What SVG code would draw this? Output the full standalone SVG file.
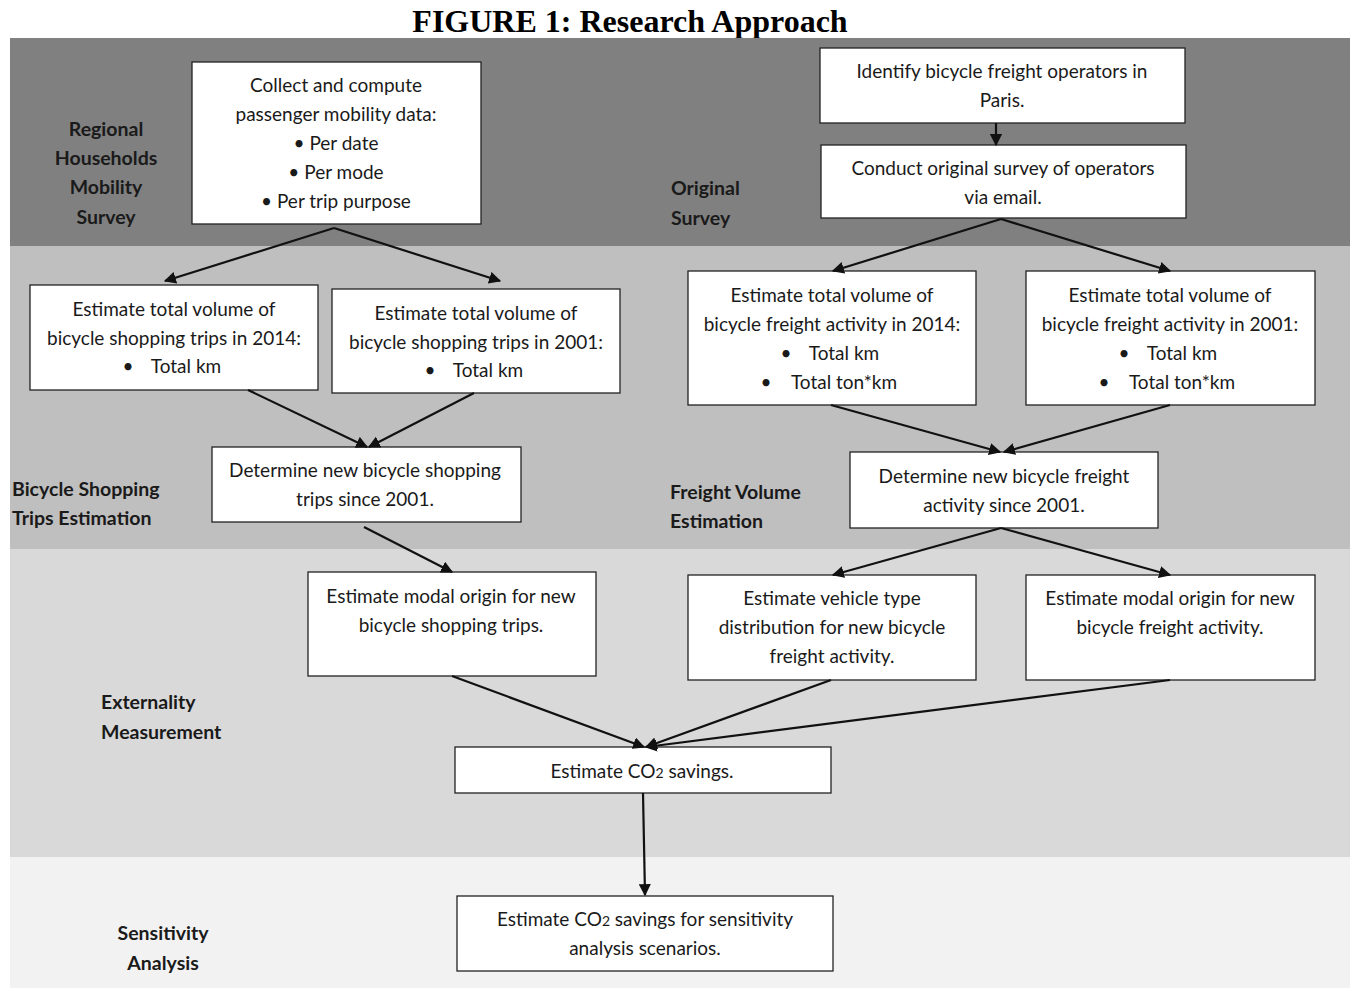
<svg xmlns="http://www.w3.org/2000/svg" width="1353" height="989" viewBox="0 0 1353 989">
<style>
.t{font-family:Lato,"Open Sans",sans-serif;font-size:19px;fill:#1a1a1a;text-anchor:middle}
.l{font-family:Lato,"Open Sans",sans-serif;font-size:19.5px;font-weight:bold;fill:#1a1a1a}
.box{fill:#fff;stroke:#222;stroke-width:1.3}
.c line{stroke:#111;stroke-width:2.2;marker-end:url(#ah)}
.sub{font-size:14px}
</style>
<defs>
<marker id="ah" viewBox="0 0 10 10" refX="9" refY="5" markerWidth="5.5" markerHeight="5.5" orient="auto" markerUnits="strokeWidth">
<path d="M0,0 L10,5 L0,10 z" fill="#111"/>
</marker>
</defs>
<rect width="1353" height="989" fill="#fff"/>
<text x="630" y="32" font-family="Liberation Serif,serif" font-weight="bold" font-size="32" text-anchor="middle" fill="#000">FIGURE 1: Research Approach</text>
<g id="bands">
<rect x="10" y="38" width="1340" height="208" fill="#808080"/>
<rect x="10" y="246" width="1340" height="303" fill="#bfbfbf"/>
<rect x="10" y="549" width="1340" height="308" fill="#d9d9d9"/>
<rect x="10" y="857" width="1340" height="131" fill="#f2f2f2"/>
</g>
<g id="labels">
<text class="l" text-anchor="middle"><tspan x="106" y="136">Regional</tspan><tspan x="106" y="165">Households</tspan><tspan x="106" y="194">Mobility</tspan><tspan x="106" y="224">Survey</tspan></text>
<text class="l"><tspan x="671" y="195">Original</tspan><tspan x="671" y="225">Survey</tspan></text>
<text class="l"><tspan x="12" y="496">Bicycle Shopping</tspan><tspan x="12" y="525">Trips Estimation</tspan></text>
<text class="l"><tspan x="670" y="499">Freight Volume</tspan><tspan x="670" y="528">Estimation</tspan></text>
<text class="l"><tspan x="101" y="709">Externality</tspan><tspan x="101" y="739">Measurement</tspan></text>
<text class="l" text-anchor="middle"><tspan x="163" y="940">Sensitivity</tspan><tspan x="163" y="970">Analysis</tspan></text>
</g>
<g id="n1"><rect class="box" x="192" y="62" width="289" height="162"/>
<text class="t"><tspan x="336" y="92">Collect and compute</tspan><tspan x="336" y="121">passenger mobility data:</tspan><tspan x="336" y="150">• Per date</tspan><tspan x="336" y="179">• Per mode</tspan><tspan x="336" y="208">• Per trip purpose</tspan></text></g>
<g id="n2"><rect class="box" x="820" y="48" width="365" height="75"/>
<text class="t"><tspan x="1002" y="78">Identify bicycle freight operators in</tspan><tspan x="1002" y="107">Paris.</tspan></text></g>
<g id="n3"><rect class="box" x="821" y="145" width="365" height="73"/>
<text class="t"><tspan x="1003" y="175">Conduct original survey of operators</tspan><tspan x="1003" y="204">via email.</tspan></text></g>
<g id="n4"><rect class="box" x="30" y="285" width="288" height="105"/>
<text class="t"><tspan x="174" y="316">Estimate total volume of</tspan><tspan x="174" y="345">bicycle shopping trips in 2014:</tspan><tspan x="128" y="373">•</tspan><tspan x="186" y="373">Total km</tspan></text></g>
<g id="n5"><rect class="box" x="332" y="289" width="288" height="104"/>
<text class="t"><tspan x="476" y="320">Estimate total volume of</tspan><tspan x="476" y="349">bicycle shopping trips in 2001:</tspan><tspan x="430" y="377">•</tspan><tspan x="488" y="377">Total km</tspan></text></g>
<g id="n6"><rect class="box" x="688" y="271" width="288" height="134"/>
<text class="t"><tspan x="832" y="302">Estimate total volume of</tspan><tspan x="832" y="331">bicycle freight activity in 2014:</tspan><tspan x="786" y="360">•</tspan><tspan x="844" y="360">Total km</tspan><tspan x="766" y="389">•</tspan><tspan x="844" y="389">Total ton*km</tspan></text></g>
<g id="n7"><rect class="box" x="1026" y="271" width="289" height="134"/>
<text class="t"><tspan x="1170" y="302">Estimate total volume of</tspan><tspan x="1170" y="331">bicycle freight activity in 2001:</tspan><tspan x="1124" y="360">•</tspan><tspan x="1182" y="360">Total km</tspan><tspan x="1104" y="389">•</tspan><tspan x="1182" y="389">Total ton*km</tspan></text></g>
<g id="n8"><rect class="box" x="212" y="447" width="309" height="75"/>
<text class="t"><tspan x="365" y="477">Determine new bicycle shopping</tspan><tspan x="365" y="506">trips since 2001.</tspan></text></g>
<g id="n9"><rect class="box" x="850" y="452" width="308" height="76"/>
<text class="t"><tspan x="1004" y="483">Determine new bicycle freight</tspan><tspan x="1004" y="512">activity since 2001.</tspan></text></g>
<g id="n10"><rect class="box" x="308" y="572" width="288" height="104"/>
<text class="t"><tspan x="451" y="603">Estimate modal origin for new</tspan><tspan x="451" y="632">bicycle shopping trips.</tspan></text></g>
<g id="n11"><rect class="box" x="688" y="575" width="288" height="105"/>
<text class="t"><tspan x="832" y="605">Estimate vehicle type</tspan><tspan x="832" y="634">distribution for new bicycle</tspan><tspan x="832" y="663">freight activity.</tspan></text></g>
<g id="n12"><rect class="box" x="1026" y="575" width="289" height="105"/>
<text class="t"><tspan x="1170" y="605">Estimate modal origin for new</tspan><tspan x="1170" y="634">bicycle freight activity.</tspan></text></g>
<g id="n13"><rect class="box" x="455" y="747" width="376" height="46"/>
<text class="t"><tspan x="642" y="778">Estimate CO<tspan class="sub">2</tspan> savings.</tspan></text></g>
<g id="n14"><rect class="box" x="457" y="896" width="376" height="75"/>
<text class="t"><tspan x="645" y="926">Estimate CO<tspan class="sub">2</tspan> savings for sensitivity</tspan><tspan x="645" y="955">analysis scenarios.</tspan></text></g>
<g id="connectors" class="c">
<line x1="334" y1="228" x2="165" y2="281"/>
<line x1="334" y1="228" x2="500" y2="281"/>
<line x1="996" y1="123" x2="996" y2="145"/>
<line x1="1001" y1="219" x2="833" y2="271"/>
<line x1="1001" y1="219" x2="1170" y2="271"/>
<line x1="248" y1="390" x2="367" y2="447"/>
<line x1="474" y1="393" x2="369" y2="447"/>
<line x1="831" y1="405" x2="1000" y2="452"/>
<line x1="1170" y1="405" x2="1004" y2="452"/>
<line x1="364" y1="527" x2="452" y2="572"/>
<line x1="1001" y1="528" x2="833" y2="575"/>
<line x1="1001" y1="528" x2="1170" y2="575"/>
<line x1="452" y1="676" x2="644" y2="747"/>
<line x1="831" y1="680" x2="646" y2="747"/>
<line x1="1170" y1="680" x2="646" y2="747"/>
<line x1="643" y1="793" x2="645" y2="895"/>
</g>
</svg>
